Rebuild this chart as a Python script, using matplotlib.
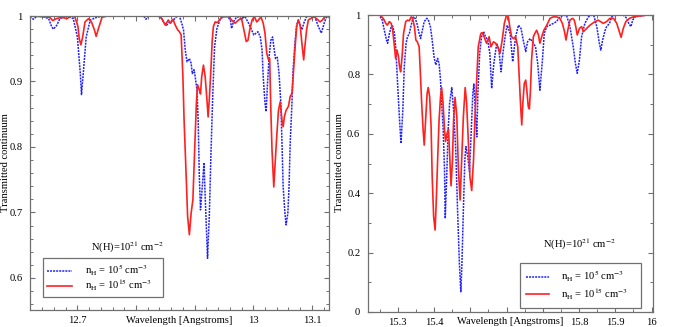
import matplotlib
matplotlib.use("Agg")
import matplotlib.pyplot as plt
from matplotlib.ticker import MultipleLocator
from matplotlib.lines import Line2D

plt.rcParams['font.family'] = 'serif'
plt.rcParams['font.serif'] = ['Liberation Serif', 'DejaVu Serif']
plt.rcParams['mathtext.fontset'] = 'stix'

# ---- left panel: 12.6 - 13.13 A ----
wl_a_low = [12.619, 12.625, 12.631, 12.642, 12.651, 12.656, 12.659, 12.665, 12.670, 12.682,
            12.693, 12.700, 12.705, 12.707, 12.710, 12.715, 12.722, 12.733, 12.739, 12.756,
            12.813, 12.817, 12.821, 12.835, 12.841, 12.847, 12.852, 12.858, 12.864, 12.869,
            12.874, 12.878, 12.881, 12.884, 12.887, 12.891, 12.894, 12.896, 12.899, 12.901,
            12.904, 12.906, 12.908, 12.910, 12.913, 12.916, 12.918, 12.922, 12.925, 12.928,
            12.931, 12.934, 12.938, 12.944, 12.949, 12.955, 12.961, 12.963, 12.966, 12.972,
            12.980, 12.986, 12.992, 12.997, 13.001, 13.005, 13.008, 13.012, 13.015, 13.017,
            13.020, 13.022, 13.024, 13.027, 13.030, 13.033, 13.035, 13.038, 13.041, 13.044,
            13.047, 13.049, 13.051, 13.054, 13.056, 13.059, 13.061, 13.063, 13.066, 13.068,
            13.071, 13.074, 13.077, 13.080, 13.083, 13.087, 13.091, 13.100, 13.105, 13.111,
            13.116, 13.121, 13.125, 13.131]
tr_a_low = [0.999, 0.995, 1.000, 0.999, 0.996, 0.984, 0.980, 0.986, 0.996, 1.000,
            0.996, 0.968, 0.912, 0.880, 0.912, 0.968, 0.994, 0.998, 0.999, 1.000,
            1.000, 0.995, 1.000, 1.000, 1.000, 0.991, 0.986, 0.991, 0.994, 0.999,
            1.000, 0.989, 0.979, 0.948, 0.930, 0.935, 0.928, 0.912, 0.918, 0.907,
            0.887, 0.841, 0.755, 0.704, 0.739, 0.776, 0.724, 0.630, 0.694, 0.795,
            0.882, 0.953, 0.981, 0.996, 0.999, 1.000, 0.994, 0.981, 0.991, 0.999,
            0.996, 0.999, 0.989, 0.979, 0.971, 0.974, 0.976, 0.968, 0.948, 0.907,
            0.867, 0.854, 0.892, 0.938, 0.963, 0.968, 0.953, 0.935, 0.937, 0.912,
            0.867, 0.806, 0.739, 0.699, 0.681, 0.699, 0.739, 0.806, 0.867, 0.918,
            0.958, 0.986, 0.994, 0.986, 0.979, 0.991, 0.999, 1.000, 0.999, 0.984,
            0.974, 0.989, 0.999, 0.999]

wl_a_high = [12.619, 12.642, 12.653, 12.658, 12.664, 12.673, 12.682, 12.690, 12.696, 12.701,
             12.703, 12.706, 12.709, 12.713, 12.719, 12.724, 12.729, 12.732, 12.736, 12.742,
             12.750, 12.835, 12.841, 12.844, 12.850, 12.855, 12.859, 12.863, 12.867, 12.871,
             12.874, 12.877, 12.880, 12.882, 12.886, 12.888, 12.891, 12.894, 12.897, 12.900,
             12.903, 12.905, 12.908, 12.910, 12.912, 12.915, 12.918, 12.921, 12.923, 12.925,
             12.928, 12.930, 12.932, 12.935, 12.939, 12.944, 12.949, 12.958, 12.963, 12.969,
             12.975, 12.980, 12.984, 12.988, 12.991, 12.994, 12.998, 13.002, 13.006, 13.009,
             13.013, 13.017, 13.020, 13.023, 13.026, 13.028, 13.030, 13.032, 13.035, 13.037,
             13.040, 13.043, 13.046, 13.049, 13.051, 13.053, 13.056, 13.060, 13.063, 13.066,
             13.068, 13.071, 13.074, 13.077, 13.080, 13.083, 13.086, 13.088, 13.091, 13.094,
             13.103, 13.108, 13.114, 13.118, 13.122, 13.131]
tr_a_high = [1.000, 0.999, 0.998, 0.993, 0.996, 0.998, 0.996, 1.000, 0.998, 0.984,
             0.966, 0.956, 0.968, 0.991, 0.996, 0.991, 0.979, 0.969, 0.981, 0.998,
             1.000, 1.000, 0.999, 0.996, 0.986, 0.994, 0.989, 0.995, 0.986, 0.979,
             0.976, 0.971, 0.907, 0.841, 0.745, 0.694, 0.666, 0.699, 0.719, 0.795,
             0.867, 0.895, 0.887, 0.881, 0.907, 0.925, 0.907, 0.872, 0.846, 0.872,
             0.923, 0.963, 0.984, 0.991, 0.990, 0.996, 0.999, 0.999, 0.994, 0.989,
             0.994, 0.996, 0.979, 0.961, 0.963, 0.979, 0.994, 0.999, 0.991, 0.994,
             0.999, 0.989, 0.974, 0.943, 0.933, 0.935, 0.856, 0.795, 0.739, 0.770,
             0.816, 0.856, 0.869, 0.841, 0.831, 0.846, 0.856, 0.862, 0.877, 0.882,
             0.907, 0.948, 0.984, 0.994, 0.986, 0.958, 0.933, 0.953, 0.979, 0.994,
             0.999, 0.996, 0.991, 0.994, 0.999, 0.999]

# ---- right panel: 15.2 - 16 A ----
wl_b_low = [15.219, 15.247, 15.256, 15.263, 15.269, 15.272, 15.277, 15.282, 15.286, 15.291,
            15.295, 15.300, 15.305, 15.309, 15.314, 15.318, 15.323, 15.327, 15.332, 15.337,
            15.343, 15.348, 15.353, 15.359, 15.363, 15.368, 15.373, 15.380, 15.384, 15.390,
            15.395, 15.400, 15.405, 15.410, 15.414, 15.418, 15.421, 15.425, 15.429, 15.431,
            15.435, 15.439, 15.443, 15.449, 15.454, 15.460, 15.465, 15.470, 15.474, 15.477,
            15.481, 15.485, 15.488, 15.493, 15.498, 15.502, 15.507, 15.510, 15.514, 15.518,
            15.521, 15.526, 15.531, 15.537, 15.542, 15.548, 15.554, 15.559, 15.565, 15.573,
            15.579, 15.585, 15.590, 15.596, 15.602, 15.610, 15.617, 15.625, 15.633, 15.640,
            15.646, 15.653, 15.658, 15.665, 15.674, 15.680, 15.686, 15.692, 15.699, 15.704,
            15.711, 15.720, 15.729, 15.738, 15.747, 15.757, 15.766, 15.775, 15.784, 15.790,
            15.795, 15.801, 15.807, 15.816, 15.826, 15.835, 15.841, 15.849, 15.856, 15.860,
            15.865, 15.872, 15.876, 15.884, 15.890, 15.899, 15.922, 15.932, 15.937, 15.943,
            15.948, 15.954, 15.968, 15.987, 16.005]
tr_b_low = [1.000, 1.000, 0.989, 0.949, 0.916, 0.905, 0.938, 0.961, 0.963, 0.938,
            0.882, 0.759, 0.646, 0.568, 0.680, 0.826, 0.905, 0.927, 0.938, 0.966,
            0.994, 0.989, 0.972, 0.938, 0.921, 0.949, 0.978, 0.989, 0.985, 0.961,
            0.916, 0.860, 0.832, 0.854, 0.837, 0.781, 0.703, 0.624, 0.478, 0.315,
            0.456, 0.613, 0.703, 0.756, 0.680, 0.545, 0.343, 0.164, 0.068, 0.164,
            0.343, 0.512, 0.557, 0.523, 0.473, 0.590, 0.736, 0.768, 0.680, 0.590,
            0.736, 0.871, 0.927, 0.944, 0.927, 0.916, 0.871, 0.753, 0.837, 0.905,
            0.882, 0.809, 0.871, 0.927, 0.966, 0.938, 0.843, 0.927, 0.966, 0.955,
            0.916, 0.877, 0.910, 0.921, 0.905, 0.893, 0.837, 0.747, 0.848, 0.938,
            0.961, 0.966, 0.972, 0.978, 0.994, 1.000, 0.997, 0.961, 0.893, 0.837,
            0.804, 0.848, 0.927, 0.972, 0.994, 1.000, 0.997, 0.961, 0.905, 0.882,
            0.916, 0.949, 0.961, 0.972, 0.994, 1.000, 1.000, 0.989, 0.972, 0.961,
            0.983, 0.994, 0.997, 1.000, 1.000]

wl_b_high = [15.219, 15.251, 15.260, 15.267, 15.271, 15.277, 15.282, 15.286, 15.291, 15.294,
             15.298, 15.302, 15.305, 15.308, 15.312, 15.316, 15.322, 15.327, 15.332, 15.337,
             15.341, 15.346, 15.350, 15.354, 15.359, 15.362, 15.366, 15.370, 15.373, 15.377,
             15.381, 15.384, 15.388, 15.392, 15.395, 15.399, 15.403, 15.406, 15.410, 15.414,
             15.418, 15.421, 15.425, 15.429, 15.432, 15.436, 15.440, 15.443, 15.447, 15.451,
             15.454, 15.458, 15.463, 15.467, 15.472, 15.476, 15.481, 15.486, 15.490, 15.495,
             15.499, 15.504, 15.509, 15.513, 15.518, 15.522, 15.529, 15.533, 15.538, 15.545,
             15.552, 15.557, 15.564, 15.570, 15.576, 15.582, 15.588, 15.594, 15.600, 15.605,
             15.609, 15.614, 15.619, 15.625, 15.631, 15.635, 15.639, 15.642, 15.645, 15.649,
             15.653, 15.656, 15.660, 15.663, 15.666, 15.669, 15.674, 15.678, 15.683, 15.688,
             15.692, 15.697, 15.703, 15.711, 15.720, 15.729, 15.738, 15.747, 15.754, 15.760,
             15.764, 15.769, 15.775, 15.782, 15.787, 15.791, 15.795, 15.801, 15.807, 15.812,
             15.821, 15.830, 15.844, 15.853, 15.867, 15.876, 15.885, 15.895, 15.904, 15.911,
             15.916, 15.922, 15.929, 15.939, 15.950, 15.968, 15.987, 16.005]
tr_b_high = [1.000, 1.000, 0.989, 0.972, 0.966, 0.978, 0.972, 0.949, 0.893, 0.854,
             0.882, 0.860, 0.826, 0.809, 0.860, 0.938, 0.978, 0.983, 0.981, 0.994,
             0.989, 0.961, 0.916, 0.910, 0.893, 0.815, 0.703, 0.613, 0.562, 0.646,
             0.736, 0.756, 0.725, 0.624, 0.456, 0.321, 0.276, 0.366, 0.512, 0.646,
             0.725, 0.756, 0.703, 0.613, 0.574, 0.602, 0.615, 0.534, 0.425, 0.512,
             0.646, 0.723, 0.658, 0.489, 0.377, 0.501, 0.658, 0.756, 0.703, 0.568,
             0.456, 0.409, 0.512, 0.658, 0.792, 0.893, 0.938, 0.941, 0.927, 0.905,
             0.927, 0.893, 0.910, 0.905, 0.893, 0.871, 0.916, 0.972, 1.000, 0.994,
             0.961, 0.927, 0.921, 0.927, 0.893, 0.792, 0.691, 0.630, 0.703, 0.770,
             0.781, 0.747, 0.691, 0.684, 0.747, 0.848, 0.927, 0.938, 0.949, 0.933,
             0.905, 0.927, 0.949, 0.966, 0.989, 0.994, 0.994, 0.989, 0.972, 0.944,
             0.916, 0.949, 0.983, 0.989, 0.983, 0.961, 0.933, 0.955, 0.961, 0.944,
             0.955, 0.966, 0.978, 0.983, 0.972, 0.978, 0.989, 0.989, 0.972, 0.944,
             0.925, 0.955, 0.978, 0.989, 0.994, 0.997, 1.000, 1.000]

label_low = r'n$_{\rm H}$ = 10$^{5}$ cm$^{-3}$'
label_high = r'n$_{\rm H}$ = 10$^{15}$ cm$^{-3}$'
column_text = r'N(H)=10$^{21}$ cm$^{-2}$'

blue = '#2020ff'
red = '#ff2020'
frame_col = '#707070'
fs = 7.6

fig = plt.figure(figsize=(6.82, 3.27), dpi=100)
ax1 = fig.add_axes([0.0447, 0.052, 0.4384, 0.899])
ax2 = fig.add_axes([0.5396, 0.0459, 0.4179, 0.908])

ax1.plot(wl_a_low, tr_a_low, color=blue, lw=1.1, dashes=(1.3, 0.7))
ax1.plot(wl_a_high, tr_a_high, color=red, lw=1.2)
ax2.plot(wl_b_low, tr_b_low, color=blue, lw=1.1, dashes=(1.3, 0.7))
ax2.plot(wl_b_high, tr_b_high, color=red, lw=1.2)

ax1.set_xlim(12.620, 13.130)
ax1.set_ylim(0.551, 1.0)
ax2.set_xlim(15.218, 16.004)
ax2.set_ylim(0, 1.0)

ax1.set_xticks([12.7, 12.8, 12.9, 13.0, 13.1], ['12.7', '', '', '13', '13.1'])
ax1.set_yticks([0.6, 0.7, 0.8, 0.9, 1.0], ['0.6', '0.7', '0.8', '0.9', '1'])
ax1.xaxis.set_minor_locator(MultipleLocator(0.02))
ax1.yaxis.set_minor_locator(MultipleLocator(0.02))

ax2.set_xticks([15.3, 15.4, 15.5, 15.6, 15.7, 15.8, 15.9, 16.0],
               ['15.3', '15.4', '', '', '', '15.8', '15.9', '16'])
ax2.set_yticks([0, 0.2, 0.4, 0.6, 0.8, 1.0], ['0', '0.2', '0.4', '0.6', '0.8', '1'])
ax2.xaxis.set_minor_locator(MultipleLocator(0.05))
ax2.yaxis.set_minor_locator(MultipleLocator(0.1))

for ax in (ax1, ax2):
    for sp in ax.spines.values():
        sp.set_color(frame_col)
        sp.set_linewidth(0.9)
    ax.tick_params(which='both', direction='in', top=True, right=True,
                   color=frame_col, labelsize=fs)
    ax.tick_params(which='major', length=3.5, width=0.8)
    ax.tick_params(which='minor', length=2.2, width=0.7)
    ax.tick_params(axis='y', pad=5.5)
    ax.tick_params(axis='x', pad=4)
    ax.set_xlabel('Wavelength [Angstroms]', fontsize=fs)

ax1.xaxis.set_label_coords(0.497, -0.02)
ax2.xaxis.set_label_coords(0.498, -0.017)
ax1.xaxis.label.set_va('top')
ax2.xaxis.label.set_va('top')

fig.text(6 / 682, 0.503, 'Transmitted continuum', rotation=90, ha='center', va='center', fontsize=fs)
fig.text(339 / 682, 0.503, 'Transmitted continuum', rotation=90, ha='center', va='center', fontsize=fs)

ax1.text(0.324, 0.214, column_text, transform=ax1.transAxes, ha='center', va='center', fontsize=fs)
ax2.text(0.74, 0.226, column_text, transform=ax2.transAxes, ha='center', va='center', fontsize=fs)

handles = [Line2D([], [], color=blue, lw=1.1, dashes=(1.3, 0.7)),
           Line2D([], [], color=red, lw=1.2)]
leg1 = ax1.legend(handles, [label_low, label_high], loc='lower left',
                  bbox_to_anchor=(0.042, 0.044, 0.401, 0.133), mode='expand',
                  borderaxespad=0, fontsize=fs,
                  fancybox=False, edgecolor=frame_col, framealpha=1,
                  handlelength=2.3, handletextpad=1.3, borderpad=0.4,
                  labelspacing=0.0)
leg1.get_frame().set_linewidth(0.9)
leg2 = ax2.legend(handles, [label_low, label_high], loc='lower left',
                  bbox_to_anchor=(0.533, 0.0135, 0.4246, 0.155), mode='expand',
                  borderaxespad=0, fontsize=fs,
                  fancybox=False, edgecolor=frame_col, framealpha=1,
                  handlelength=2.2, handletextpad=1.1, borderpad=0.6,
                  labelspacing=0.2)
leg2.get_frame().set_linewidth(0.9)

fig.savefig('out.png', dpi=100)
